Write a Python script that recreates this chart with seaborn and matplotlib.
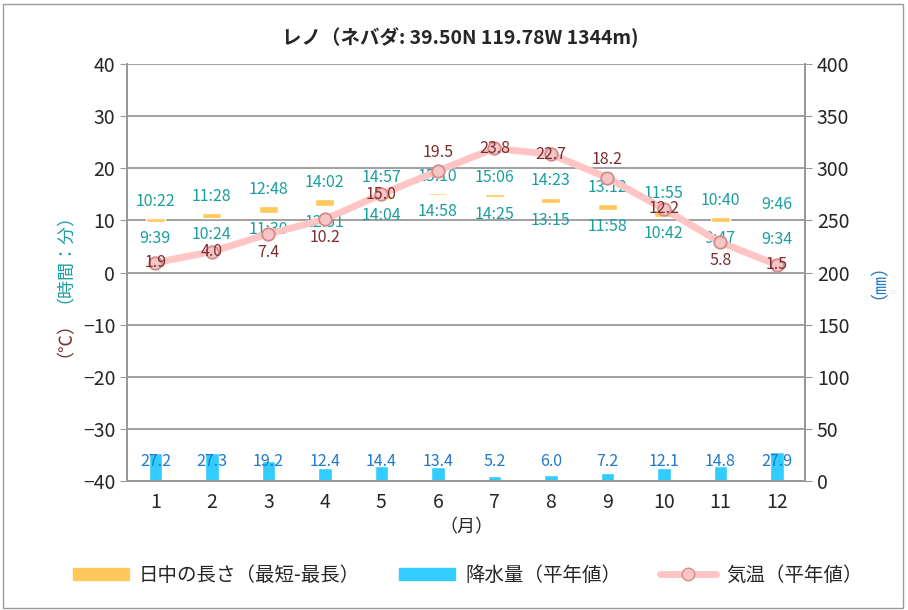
import matplotlib
matplotlib.use('Agg')
import matplotlib.pyplot as plt
from matplotlib.patches import Patch, Rectangle
from matplotlib.lines import Line2D
import seaborn as sns
import numpy as np
import pandas as pd

months = list(range(1, 13))
temp = [1.9, 4.0, 7.4, 10.2, 15.0, 19.5, 23.8, 22.7, 18.2, 12.2, 5.8, 1.5]
precip = [27.2, 27.3, 19.2, 12.4, 14.4, 13.4, 5.2, 6.0, 7.2, 12.1, 14.8, 27.9]
day_min = ['9:39', '10:24', '11:30', '12:51', '14:04', '14:58',
           '14:25', '13:15', '11:58', '10:42', '9:47', '9:34']
day_max = ['10:22', '11:28', '12:48', '14:02', '14:57', '15:10',
           '15:06', '14:23', '13:12', '11:55', '10:40', '9:46']

title = 'レノ（ネバダ: 39.50N 119.78W 1344m)'

# label placement for temperature values (offset in points)
temp_offsets = [0, 0, -13, -13, 0, 13, 0, 0, 13, 0, -13, 0]

def to_hours(s):
    h, m = s.split(':')
    return int(h) + int(m) / 60.0

df = pd.DataFrame({'month': months, 'temp': temp, 'precip': precip,
                   'dmin': [to_hours(s) for s in day_min],
                   'dmax': [to_hours(s) for s in day_max]})

sns.set_style('white')
plt.rcParams['font.family'] = ['Noto Sans CJK JP', 'DejaVu Sans']

c_temp = '#ffc4c4'
c_temp_edge = '#d58a8a'
c_temp_txt = '#7a2e2e'
c_day = '#ffc85a'
c_day_txt = '#1a9e9e'
c_rain = '#33ccff'
c_rain_txt = '#1f78cc'
c_grid = '#999999'

fig = plt.figure(figsize=(9.08, 6.10), dpi=100)
ax = fig.add_axes([0.140, 0.2115, 0.7466, 0.6835])
ax2 = ax.twinx()

# precipitation on right axis
sns.barplot(data=df, x='month', y='precip', ax=ax2, color=c_rain,
            native_scale=True, width=0.24, saturation=1, zorder=2)
for m, p in zip(months, precip):
    ax2.text(m, 19, f'{p:.1f}', ha='center', va='center', color=c_rain_txt,
             fontsize=11.5)
ax2.set_ylim(0, 400)
ax2.set_yticks(np.arange(0, 401, 50))
ax2.set_ylabel('')
ax2.set_xlabel('')

# day length floating bars on left axis
ax.bar(df['month'], df['dmax'] - df['dmin'], bottom=df['dmin'], width=0.34,
       color=c_day, zorder=3)
for m, lo, hi, slo, shi in zip(months, df['dmin'], df['dmax'], day_min, day_max):
    ax.annotate(shi, (m, hi), xytext=(0, 12), textcoords='offset points',
                ha='center', va='center', color=c_day_txt, fontsize=11.5)
    ax.annotate(slo, (m, lo), xytext=(0, -12), textcoords='offset points',
                ha='center', va='center', color=c_day_txt, fontsize=11.5)

# temperature
sns.lineplot(data=df, x='month', y='temp', ax=ax, color=c_temp, linewidth=5,
             marker='o', markersize=9, markerfacecolor='#f6c6c6',
             markeredgecolor=c_temp_edge, markeredgewidth=1.3, zorder=4)
for m, t, off in zip(months, temp, temp_offsets):
    ax.annotate(f'{t:.1f}', (m, t), xytext=(0, off), textcoords='offset points',
                ha='center', va='center', color=c_temp_txt, fontsize=11.5,
                zorder=5)

ax.set_zorder(ax2.get_zorder() + 1)
ax.patch.set_visible(False)

ax.set_xlim(0.5, 12.5)
ax.set_ylim(-40, 40)
ax.set_yticks(np.arange(-40, 41, 10))
ax.set_xticks(months)
ax.set_xlabel('（月）', fontsize=13, labelpad=4)
ax.set_ylabel('')
ax.yaxis.grid(True, color=c_grid, linewidth=1.3)
ax.tick_params(axis='y', length=5, color=c_grid, labelsize=14)
ax.tick_params(axis='x', length=0, labelsize=14, pad=8)
ax2.tick_params(axis='y', length=5, color=c_grid, labelsize=14)
for a in (ax, ax2):
    for s in a.spines.values():
        s.set_color(c_grid)
        s.set_linewidth(1.3)
    a.spines['top'].set_visible(False)

fig.text(0.507, 0.938, title, ha='center', va='center', fontsize=14,
         fontweight='bold')
fig.text(0.061, 0.503, '（時間：分）', rotation=90, ha='center', va='bottom',
         color=c_day_txt, fontsize=13)
fig.text(0.061, 0.503, '（℃）', rotation=90, ha='center', va='top',
         color=c_temp_txt, fontsize=13)
fig.text(0.958, 0.554, '（㎜）', rotation=90, ha='center', va='center',
         color=c_rain_txt, fontsize=13)

handles = [Patch(color=c_day), Patch(color=c_rain),
           Line2D([], [], color=c_temp, linewidth=5, marker='o', markersize=9,
                  markerfacecolor='#f6c6c6', markeredgecolor=c_temp_edge)]
labels = ['日中の長さ（最短-最長）', '降水量（平年値）', '気温（平年値）']
fig.legend(handles, labels, loc='center', bbox_to_anchor=(0.515, 0.057), ncol=3,
           frameon=False, fontsize=14, handlelength=2.9, handleheight=0.6,
           columnspacing=2.0, handletextpad=0.5)

fig.patches.append(Rectangle((0.003, 0.004), 0.991, 0.99, transform=fig.transFigure,
                             fill=False, edgecolor='#999999', linewidth=1))

fig.savefig('out.png', dpi=100)
